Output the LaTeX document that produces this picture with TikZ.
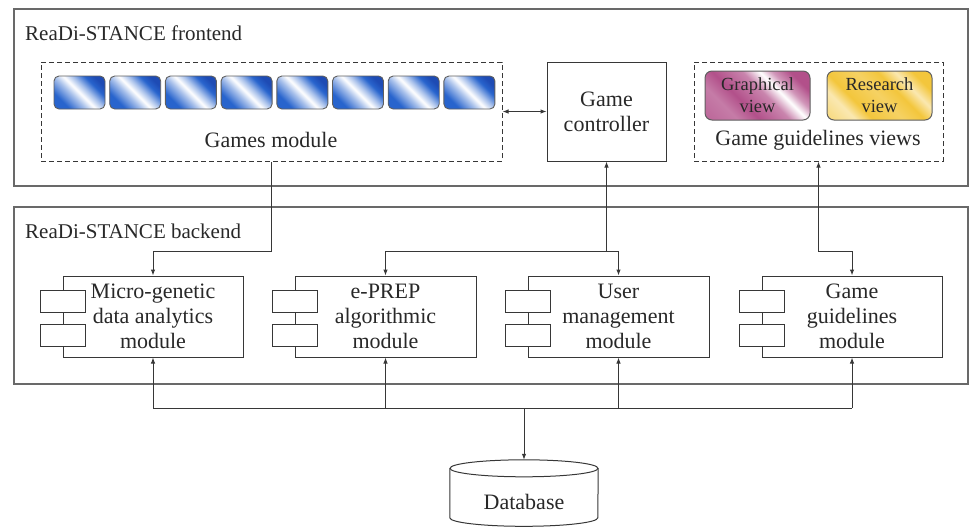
\documentclass[tikz,border=0pt]{standalone}
\usepackage{fontspec}
\setmainfont{Liberation Serif}
\usetikzlibrary{arrows.meta,calc}
\definecolor{ln}{RGB}{55,55,55}
\definecolor{framec}{RGB}{105,105,105}
\definecolor{txt}{RGB}{40,40,40}
\definecolor{tileblue}{RGB}{40,100,205}
\definecolor{deepblue}{RGB}{30,75,180}
\definecolor{mauve}{RGB}{178,80,138}
\definecolor{gold}{RGB}{243,198,60}
\pgfdeclarehorizontalshading{bluestripe}{100bp}{color(0bp)=(tileblue); color(28bp)=(tileblue); color(42bp)=(tileblue!40!white); color(50bp)=(white); color(58bp)=(tileblue!40!white); color(68bp)=(tileblue); color(76bp)=(deepblue); color(100bp)=(deepblue)}
\pgfdeclarehorizontalshading{mauvestripe}{100bp}{color(0bp)=(mauve); color(30bp)=(mauve!75!white); color(40bp)=(mauve); color(54bp)=(mauve!70!white); color(62bp)=(white); color(68bp)=(mauve!60!white); color(76bp)=(mauve); color(100bp)=(mauve)}
\pgfdeclarehorizontalshading{goldstripe}{100bp}{color(0bp)=(gold); color(28bp)=(gold!40!white); color(36bp)=(gold); color(50bp)=(gold!80!white); color(60bp)=(gold); color(68bp)=(gold!40!white); color(76bp)=(gold); color(100bp)=(gold)}
\tikzset{
  every node/.style={text=txt},
  outer/.style={draw=framec, line width=1.1pt, inner sep=0pt},
  dashbox/.style={draw=ln, dashed, dash pattern=on 5pt off 3pt, line width=1pt, inner sep=0pt},
  solidbox/.style={draw=ln, line width=1pt, inner sep=0pt},
  tile/.style={draw=ln!80, line width=0.9pt, rounded corners=5pt, minimum width=51pt, minimum height=33pt, inner sep=0pt, shading=bluestripe, shading angle=45},
  viewbox/.style={draw=ln!80, line width=1pt, rounded corners=7pt, minimum width=105pt, minimum height=49pt, inner sep=0pt, align=center, font=\fontsize{18.5}{22}\selectfont},
  bigtext/.style={font=\fontsize{22}{25}\selectfont, align=center, inner sep=0pt},
  grplabel/.style={font=\fontsize{21}{25}\selectfont, anchor=west, inner sep=0pt},
  module/.style={draw=ln, line width=1pt, minimum height=81pt, inner sep=0pt, align=center, font=\fontsize{22}{25}\selectfont},
  tab/.style={draw=ln, line width=1pt, fill=white, minimum width=45pt, minimum height=22pt, inner sep=0pt},
  conn/.style={draw=ln, line width=1pt},
  arr/.style={conn, -{Latex[length=6pt,width=4.5pt]}},
  darr/.style={conn, {Latex[length=6pt,width=4.5pt]}-{Latex[length=6pt,width=4.5pt]}},
}
\begin{document}
\begin{tikzpicture}[x=1pt,y=-1pt]
\useasboundingbox (0,0) rectangle (971,528);
% containers
\node[outer, minimum width=954pt, minimum height=177pt] (front) at (491,97.5) {};
\node[grplabel] (frontlbl) at (25,33) {ReaDi-STANCE frontend};
\node[outer, minimum width=954pt, minimum height=177pt] (back) at (491,295.5) {};
\node[grplabel] (backlbl) at (25,231) {ReaDi-STANCE backend};
% games module
\node[dashbox, minimum width=461pt, minimum height=99pt] (games) at (271.5,111.5) {};
\foreach \i in {1,...,8} {
  \node[tile] (tile\i) at ({54+25.5+(\i-1)*55.7},92.5) {};
}
\node[bigtext] (gameslbl) at (271,140) {Games module};
% controller
\node[solidbox, minimum width=119pt, minimum height=99pt, bigtext] (ctrl) at (606.5,111.5) {Game\\controller};
% views
\node[dashbox, minimum width=249pt, minimum height=99pt] (views) at (818.5,111.5) {};
\node[viewbox, shading=mauvestripe, shading angle=45] (graph) at (757.5,95.5) {Graphical\\view};
\node[viewbox, shading=goldstripe, shading angle=45] (research) at (879.5,95.5) {Research\\view};
\node[bigtext] (viewslbl) at (818,140) {Game guidelines views};
% modules
\node[module, minimum width=180pt] (m1) at (153,316.5) {Micro-genetic\\data analytics\\module};
\node[module, minimum width=181pt] (m2) at (385.5,316.5) {e-PREP\\algorithmic\\module};
\node[module, minimum width=181pt] (m3) at (618.5,316.5) {User\\management\\module};
\node[module, minimum width=180pt] (m4) at (852,316.5) {Game\\guidelines\\module};
\foreach \m in {m1,m2,m3,m4} {
  \node[tab] (\m ta) at ($(\m.west)+(0.5,-15.5)$) {};
  \node[tab] (\m tb) at ($(\m.west)+(0.5,18.5)$) {};
}
% database
\node[inner sep=0pt, minimum width=148pt, minimum height=84pt, font=\fontsize{22}{25}\selectfont] (db) at (524,502) {Database};
\draw[conn] ($(db.north)+(0,8.5)$) ellipse [x radius=74pt, y radius=8.5pt];
\draw[conn] ($(db.north west)+(0,8.5)$) -- ($(db.north west)+(0,58)$)
  arc[start angle=180, end angle=360, x radius=74pt, y radius=8.5pt]
  -- ($(db.north east)+(0,8.5)$);
% connectors
\coordinate (busy) at (0,251);
\coordinate (busb) at (0,408);
\draw[darr] (games.east) -- (ctrl.west);
\draw[arr] (games.south) -- (games.south |- busy) -| (m1.north);
\draw[arr] (ctrl.south |- busy) -- (ctrl.south);
\draw[darr] (m2.north) -- (m2.north |- busy) -- (m3.north |- busy) -- (m3.north);
\draw[darr] (views.south) |- (m4.north |- busy) -- (m4.north);
\draw[conn] (m1.south |- busb) -- (m4.south |- busb);
\foreach \m in {m1,m2,m3,m4} {
  \draw[arr] (\m.south |- busb) -- (\m.south);
}
\draw[arr] (db.north |- busb) -- (db.north);
\end{tikzpicture}
\end{document}
